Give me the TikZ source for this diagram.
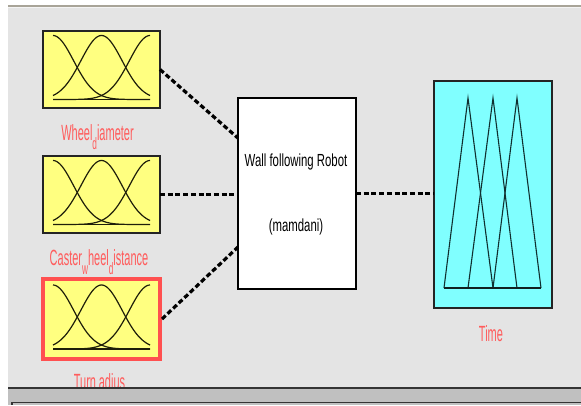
\documentclass[tikz,border=0pt]{standalone}
\usepackage{fontspec}
\setmainfont{Liberation Sans}
\usetikzlibrary{calc}

\definecolor{panel}{RGB}{228,228,228}
\definecolor{mfyellow}{RGB}{255,255,128}
\definecolor{outcyan}{RGB}{128,255,255}
\definecolor{labelred}{RGB}{255,92,92}
\definecolor{selred}{RGB}{255,80,80}
\definecolor{edge}{RGB}{36,36,36}
\definecolor{topline}{RGB}{168,164,152}
\definecolor{barfill}{RGB}{192,192,192}
\definecolor{bardark}{RGB}{52,52,52}

% lowered small letter, as the editor prints an underscore subscript
\newcommand\lowsub[1]{\raisebox{-0.45em}{\scalebox{0.75}{#1}}}
% condensed label and block fonts
\newcommand\varlabel[1]{\scalebox{0.5}[1]{\fontsize{22}{22}\selectfont #1}}
\newcommand\systext[1]{\scalebox{0.65}[1]{\fontsize{17.5}{17.5}\selectfont #1}}

\tikzset{
  inbox/.style={draw=edge, line width=1.5pt, fill=mfyellow,
    minimum width=117pt, minimum height=77pt, inner sep=0pt, outer sep=0pt},
  selbox/.style={inbox, draw=selred, line width=4pt, minimum height=80pt},
  sysbox/.style={draw=black, line width=2pt, fill=white,
    minimum width=118pt, minimum height=191pt, inner sep=0pt, outer sep=0pt},
  outbox/.style={draw=edge, line width=1.5pt, fill=outcyan,
    minimum width=118pt, minimum height=227pt, inner sep=0pt, outer sep=0pt},
  lbl/.style={text=labelred, inner sep=0pt, anchor=base},
  systxt/.style={text=black, inner sep=0pt, anchor=base},
  conn/.style={draw=black, line width=3.2pt, dash pattern=on 5pt off 2.7pt},
  mfcurve/.style={draw={rgb,255:red,30;green,30;blue,10}, line width=1.2pt},
  mfaxis/.style={draw={rgb,255:red,30;green,30;blue,10}, line width=1.8pt},
  tri/.style={draw={rgb,255:red,16;green,48;blue,48}, line width=1.1pt},
  triaxis/.style={draw={rgb,255:red,16;green,32;blue,32}, line width=1.6pt}
}

\begin{document}
\begin{tikzpicture}[x=1pt,y=-1pt]
\useasboundingbox (0,0) rectangle (581,405);

% window panel
\fill[white] (0,0) rectangle (581,405);
\fill[panel] (8,7) rectangle (581,388);
\fill[topline] (8,4.5) rectangle (581,6.5);
\fill[white!60!panel] (8,6.5) rectangle (581,8);

% variable names
\node[lbl] (lab1) at (97.5,140) {\varlabel{Wheel\lowsub{d}iameter}};
\node[lbl] (lab2) at (99,265) {\varlabel{Caster\lowsub{w}heel\lowsub{d}istance}};
\node[lbl] (lab3) at (99.5,389) {\varlabel{Turn\lowsub{r}adius}};
\node[lbl] (lab4) at (491,341) {\varlabel{Time}};

% blocks
\node[inbox] (in1) at (101.5,69.5) {};
\node[inbox] (in2) at (101.5,194.5) {};
\node[selbox] (in3) at (101.5,319) {};
\node[sysbox] (sys) at (297,193.5) {};
\node[outbox] (out) at (493,194.5) {};

\node[systxt] (systitle) at (296,166) {\systext{Wall following Robot}};
\node[systxt] (systype) at (296,231) {\systext{(mamdani)}};

% connections
\coordinate (s1) at ($(sys.north west)!0.21!(sys.south west)$);
\coordinate (s3) at ($(sys.north west)!0.78!(sys.south west)$);
\draw[conn] (in1.east) -- (s1);
\draw[conn] (in2.east) -- (in2.east -| sys.west);
\draw[conn] ([xshift=2pt]in3.east) -- (s3);
\draw[conn] (sys.east) -- (sys.east -| out.west);

% gaussian membership functions of the inputs
\foreach \n in {in1,in2,in3} {
  \begin{scope}[shift={(\n.center)}]
    \draw[mfaxis] (-48.5,30) -- (48.5,30);
    \foreach \c in {-48.5,0,48.5}
      \draw[mfcurve] plot[domain=-48.5:48.5, samples=70, smooth]
        (\x, {30-64*exp(-((\x-(\c))^2)/848.7)});
  \end{scope}
}

% triangular membership functions of the output
\begin{scope}[shift={(out.center)}]
  \draw[tri] (-49,93.5) -- (-25,-96.5) -- (0,93.5);
  \draw[tri] (-25,93.5) -- (0,-96.5) -- (24,93.5);
  \draw[tri] (0,93.5) -- (24,-96.5) -- (48,93.5);
  \draw[triaxis] (-49,93.5) -- (48,93.5);
\end{scope}

% status bar along the bottom
\fill[barfill] (8,388) rectangle (581,405);
\fill[bardark] (8,386.8) rectangle (581,389);
\fill[bardark] (11,401.5) rectangle (581,403.3);
\fill[bardark] (11,401.5) rectangle (12.8,405);
\end{tikzpicture}
\end{document}
